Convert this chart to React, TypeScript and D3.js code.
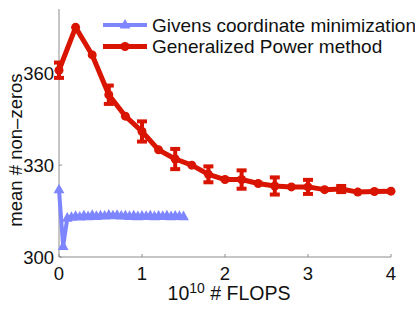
import React from "react";
import { scaleLinear, line } from "d3";

const width = 415;
const height = 310;
const margin = { left: 59, right: 24, top: 9, bottom: 53 };

// Generalized Power method (red), x in 1e10 FLOPS
const gpX = [0, 0.2, 0.4, 0.6, 0.8, 1.0, 1.2, 1.4, 1.6, 1.8, 2.0, 2.2, 2.4, 2.6, 2.8, 3.0, 3.2, 3.4, 3.6, 3.8, 4.0];
const gpY = [361, 375, 366, 353, 346, 341, 335, 332, 330, 327, 325.3, 325.3, 324, 323.2, 322.9, 322.9, 322, 322.2, 321.2, 321.4, 321.5];
const gpErr = [2.5, 0, 0, 3, 0, 3.3, 0, 3.3, 0, 2.6, 0, 3, 0, 2.8, 0, 2.3, 0, 1, 0, 0, 0];

// Givens coordinate minimization (blue)
const gcX = [0, 0.05, 0.1, 0.15, 0.2, 0.25, 0.3, 0.35, 0.4, 0.45, 0.5, 0.55, 0.6, 0.65, 0.7, 0.75, 0.8, 0.85, 0.9, 0.95, 1.0, 1.05, 1.1, 1.15, 1.2, 1.25, 1.3, 1.35, 1.4, 1.45, 1.5];
const gcY = [322, 303.5, 312.7, 313, 313.3, 313.1, 313.5, 313.2, 313.6, 313.3, 313.5, 313.4, 313.7, 313.5, 313.6, 313.4, 313.5, 313.3, 313.5, 313.2, 313.4, 313.3, 313.5, 313.2, 313.4, 313.3, 313.5, 313.2, 313.4, 313.3, 313.2];

const xTicks = [0, 1, 2, 3, 4];
const yTicks = [300, 330, 360];

const red = "#d91400";
const blue = "#7d85ff";
const axisGray = "#8c8c8c";
const font = "'Liberation Sans', Arial, sans-serif";

const triangle = (cx: number, cy: number, s: number) =>
    `M${cx},${cy - s}L${cx + s * 0.9},${cy + s * 0.6}L${cx - s * 0.9},${cy + s * 0.6}Z`;

const App = () => {
    const x = scaleLinear().domain([0, 4]).range([margin.left, width - margin.right]);
    const y = scaleLinear().domain([300, 381]).range([height - margin.bottom, margin.top]);

    const gpLine = line<number>().x((d, i) => x(gpX[i])).y(d => y(d));
    const gcLine = line<number>().x((d, i) => x(gcX[i])).y(d => y(d));

    const x0 = x(0);
    const yBase = y(300);

    return (
        <svg width={width} height={height} style={{ position: "absolute", left: 0, top: 0 }} fontFamily={font}>
            <rect width={width} height={height} fill="white" />
            {/* axes */}
            <line x1={x0} x2={x(4)} y1={yBase} y2={yBase} stroke={axisGray} strokeWidth={1} />
            <line x1={x0} x2={x0} y1={y(381)} y2={yBase} stroke={axisGray} strokeWidth={1} />
            {xTicks.map(t => (
                <g key={"x" + t}>
                    <line x1={x(t)} x2={x(t)} y1={yBase} y2={yBase - 3} stroke={axisGray} />
                    <text x={x(t)} y={yBase + 23} fontSize={18.5} textAnchor="middle" fill="#111">{t}</text>
                </g>
            ))}
            {yTicks.map(t => (
                <g key={"y" + t}>
                    <line x1={x0} x2={x0 + 3} y1={y(t)} y2={y(t)} stroke={axisGray} />
                    <text x={x0 - 5} y={y(t) + 6.5} fontSize={18.5} textAnchor="end" fill="#111">{t}</text>
                </g>
            ))}
            <text x={(x(0) + x(4)) / 2 + 4} y={300} fontSize={19.5} textAnchor="middle" fill="#111">
                10<tspan dy={-7} fontSize={14}>10</tspan><tspan dy={7}> # FLOPS</tspan>
            </text>
            <text transform={`translate(22, 150) rotate(-90)`} fontSize={18.5} textAnchor="middle" fill="#111">
                mean # non–zeros
            </text>

            {/* Givens series */}
            <path d={gcLine(gcY) || ""} fill="none" stroke={blue} strokeWidth={4} strokeLinejoin="round" />
            {gcY.map((v, i) => (
                <path key={"gc" + i} d={triangle(x(gcX[i]), y(v), 6)} fill={blue} />
            ))}

            {/* Generalized Power series */}
            <path d={gpLine(gpY) || ""} fill="none" stroke={red} strokeWidth={5} strokeLinejoin="round" />
            {gpY.map((v, i) => gpErr[i] > 0 ? (
                <g key={"err" + i} stroke={red} strokeWidth={4}>
                    <line x1={x(gpX[i])} x2={x(gpX[i])} y1={y(v - gpErr[i])} y2={y(v + gpErr[i])} />
                    <line x1={x(gpX[i]) - 5} x2={x(gpX[i]) + 5} y1={y(v - gpErr[i])} y2={y(v - gpErr[i])} />
                    <line x1={x(gpX[i]) - 5} x2={x(gpX[i]) + 5} y1={y(v + gpErr[i])} y2={y(v + gpErr[i])} />
                </g>
            ) : null)}
            {gpY.map((v, i) => (
                <circle key={"gp" + i} cx={x(gpX[i])} cy={y(v)} r={4.5} fill={red} />
            ))}

            {/* legend */}
            <g>
                <line x1={103} x2={147} y1={25} y2={25} stroke={blue} strokeWidth={4} />
                <path d={triangle(125, 25, 6)} fill={blue} />
                <text x={152} y={31.5} fontSize={19} fill="#111">Givens coordinate minimization</text>
                <line x1={103} x2={147} y1={46.5} y2={46.5} stroke={red} strokeWidth={5} />
                <circle cx={125} cy={46.5} r={4.5} fill={red} />
                <text x={152} y={53} fontSize={19} fill="#111">Generalized Power method</text>
            </g>
        </svg>
    );
};

export default App;
